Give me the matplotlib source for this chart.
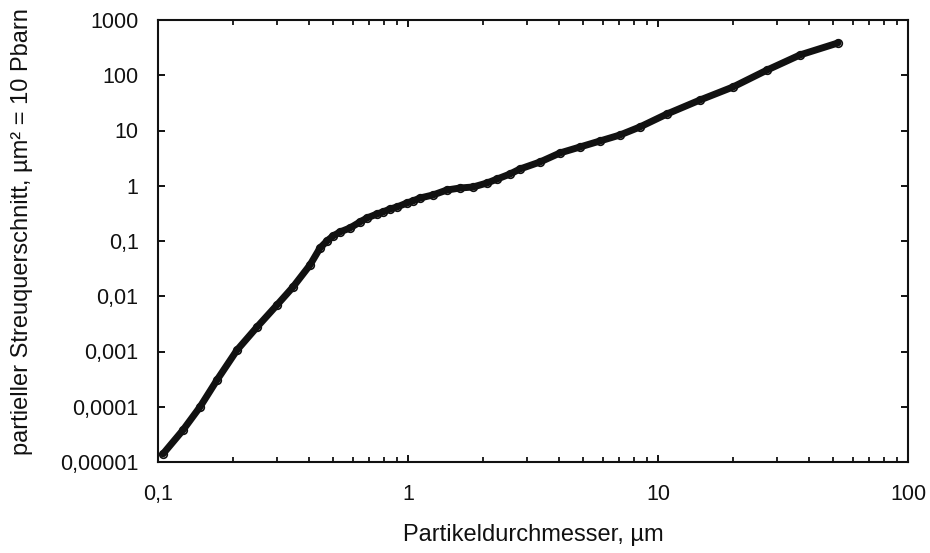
import matplotlib
matplotlib.use("Agg")
import matplotlib.pyplot as plt
import matplotlib.ticker as mticker

# particle diameter [um] and partial scattering cross-section [um^2]
DIAMETER = [0.1047, 0.1259, 0.1472, 0.1722, 0.2070, 0.2489, 0.2992, 0.3467,
            0.4055, 0.4446, 0.4742, 0.5012, 0.5346, 0.5861, 0.6427, 0.6855,
            0.7516, 0.7943, 0.8472, 0.9036, 0.9908, 1.047, 1.117, 1.259,
            1.432, 1.614, 1.820, 2.070, 2.270, 2.559, 2.805, 3.373, 4.055,
            4.875, 5.861, 7.047, 8.472, 10.86, 14.72, 19.95, 27.29, 36.98, 52.48]
CROSS_SECTION = [1.40e-5, 3.79e-5, 9.9e-5, 3.05e-4, 1.06e-3, 2.77e-3, 6.95e-3, 0.0147,
                 0.0368, 0.0746, 0.100, 0.123, 0.1456, 0.172, 0.221, 0.261,
                 0.308, 0.335, 0.379, 0.412, 0.488, 0.530, 0.600, 0.681,
                 0.838, 0.910, 0.949, 1.12, 1.32, 1.63, 2.01, 2.69, 3.92,
                 5.03, 6.46, 8.29, 11.6, 19.9, 35.6, 61.3, 124, 233, 384]

X_TICKS = [0.1, 1, 10, 100]
X_TICKLABELS = ["0,1", "1", "10", "100"]
Y_TICKS = [1e-5, 1e-4, 1e-3, 1e-2, 1e-1, 1, 10, 100, 1000]
Y_TICKLABELS = ["0,00001", "0,0001", "0,001", "0,01", "0,1", "1", "10", "100", "1000"]

plt.rcParams["font.family"] = ["Liberation Sans", "DejaVu Sans"]

fig = plt.figure(figsize=(9.3, 5.53), dpi=100)
ax = fig.add_axes([158 / 930, 1 - 462 / 553, 750 / 930, 442 / 553])

ax.plot(DIAMETER, CROSS_SECTION, color="#111111", linewidth=5,
        marker="o", markersize=5.5, markerfacecolor="none",
        markeredgecolor="#111111", markeredgewidth=1.2,
        solid_capstyle="round", solid_joinstyle="round")

ax.set_xscale("log")
ax.set_yscale("log")
ax.set_xlim(0.1, 100)
ax.set_ylim(1e-5, 1000)

ax.set_xticks(X_TICKS)
ax.set_xticklabels(X_TICKLABELS)
ax.xaxis.set_minor_locator(mticker.LogLocator(base=10, subs=range(2, 10), numticks=20))
ax.xaxis.set_minor_formatter(mticker.NullFormatter())
ax.set_yticks(Y_TICKS)
ax.set_yticklabels(Y_TICKLABELS)
ax.yaxis.set_minor_locator(mticker.NullLocator())

ax.tick_params(axis="both", which="major", direction="in", length=5, width=1.4,
               top=True, right=True, labelsize=15.5, colors="#111111")
ax.tick_params(axis="x", which="major", pad=16)
ax.tick_params(axis="y", which="major", pad=14)
ax.tick_params(axis="x", which="minor", direction="in", length=3.5, width=1.2,
               top=True, bottom=True)

for s in ax.spines.values():
    s.set_linewidth(1.5)
    s.set_color("#111111")

fig.text(533 / 930, 1 - 535 / 553, "Partikeldurchmesser, µm",
         ha="center", va="center", fontsize=17, color="#111111")
fig.text(22 / 930, 1 - 232 / 553, "partieller Streuquerschnitt, µm² = 10 Pbarn",
         ha="center", va="center", rotation=90, fontsize=17, color="#111111")

fig.savefig("out.png", dpi=100, facecolor="white")
